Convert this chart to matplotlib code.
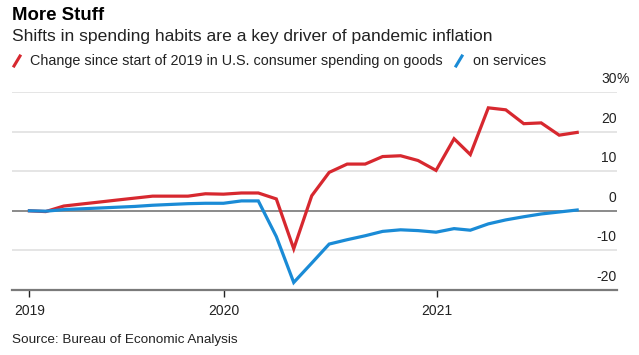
import matplotlib
matplotlib.use("Agg")
import matplotlib.pyplot as plt
import matplotlib.transforms as mtransforms
from matplotlib.lines import Line2D
import pandas as pd

plt.rcParams["font.family"] = ["Liberation Sans", "DejaVu Sans"]

# monthly, Jan 2019 .. Aug 2021, % change since start of 2019
months = pd.date_range("2019-01-31", periods=32, freq="ME")
goods = [0.0, -0.2, 1.2, 1.7, 2.2, 2.7, 3.2, 3.7, 3.7, 3.7, 4.3, 4.2,
         4.5, 4.5, 3.0, -9.6, 3.8, 9.7, 11.8, 11.8, 13.7, 13.9, 12.7, 10.2,
         18.2, 14.2, 26.0, 25.5, 22.0, 22.2, 19.1, 19.8]
services = [0.0, -0.1, 0.3, 0.5, 0.7, 0.9, 1.1, 1.4, 1.6, 1.8, 1.9, 1.9,
            2.5, 2.5, -6.5, -18.1, -13.2, -8.4, -7.3, -6.3, -5.2, -4.8, -5.0, -5.4,
            -4.5, -4.9, -3.3, -2.3, -1.5, -0.8, -0.3, 0.2]

year_ticks = pd.to_datetime(["2019-01-31", "2020-01-01", "2021-01-01"])
year_labels = ["2019", "2020", "2021"]
y_ticks = [-20, -10, 0, 10, 20, 30]
y_labels = ["-20", "-10", "0", "10", "20", "30"]

RED = "#d7282f"
BLUE = "#1a8bd6"
W, H = 639, 355

fig = plt.figure(figsize=(W / 100, H / 100), dpi=100)
ax = fig.add_axes([12 / W, (H - 290) / H, (616.7 - 12) / W, 198 / H])

for v in y_ticks:
    if v == 0:
        ax.axhline(v, color="#8a8a8a", lw=1.4, zorder=2)
    elif v > -20:
        ax.axhline(v, color="#e3e3e3", lw=1.3, zorder=1)

ax.plot(months, goods, color=RED, lw=2.3, zorder=3, solid_joinstyle="miter")
ax.plot(months, services, color=BLUE, lw=2.3, zorder=3, solid_joinstyle="miter")

ax.set_xlim(pd.Timestamp("2019-01-01"), pd.Timestamp("2021-11-07"))
ax.set_ylim(-20, 30)

for s in ["top", "right", "left"]:
    ax.spines[s].set_visible(False)
ax.spines["bottom"].set_color("#7a7a7a")
ax.spines["bottom"].set_linewidth(1.6)

ax.set_yticks([])
ax.set_xticks(year_ticks)
ax.set_xticklabels(year_labels, fontsize=10, color="#222222")
ax.tick_params(axis="x", length=5, width=1, color="#222222", pad=5)

# y labels sit above their gridlines, right aligned
off = mtransforms.offset_copy(ax.get_yaxis_transform(), fig=fig, x=0, y=13, units="dots")
for v, lab in zip(y_ticks, y_labels):
    ax.text(1.0, v, lab, transform=off, ha="right", va="center", fontsize=10, color="#222222")
ax.text(1.0, 30, "%", transform=off, ha="left", va="center", fontsize=10, color="#222222")

fig.text(12 / W, 1 - 15 / H, "More Stuff", fontsize=13.4, fontweight="bold", ha="left", va="center")
fig.text(12 / W, 1 - 36 / H, "Shifts in spending habits are a key driver of pandemic inflation",
         fontsize=12.6, ha="left", va="center", color="#222222")

fig.add_artist(Line2D([14 / W, 20 / W], [1 - 66 / H, 1 - 56 / H], color=RED, lw=2.2,
                      transform=fig.transFigure))
fig.text(30 / W, 1 - 61 / H, "Change since start of 2019 in U.S. consumer spending on goods",
         fontsize=10.4, ha="left", va="center", color="#222222")
fig.add_artist(Line2D([456 / W, 462 / W], [1 - 66 / H, 1 - 56 / H], color=BLUE, lw=2.2,
                      transform=fig.transFigure))
fig.text(473 / W, 1 - 61 / H, "on services", fontsize=10.4, ha="left", va="center", color="#222222")

fig.text(12 / W, 1 - 340 / H, "Source: Bureau of Economic Analysis", fontsize=9.7,
         ha="left", va="center", color="#222222")

fig.savefig("out.png", dpi=100)
